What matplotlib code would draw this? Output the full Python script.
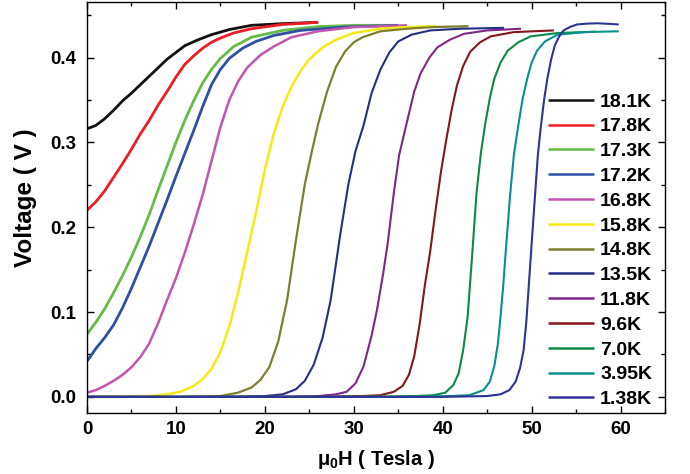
import matplotlib
matplotlib.use("Agg")
import matplotlib.pyplot as plt
from matplotlib.ticker import MultipleLocator

plt.rcParams['font.family'] = ['Liberation Sans', 'DejaVu Sans']
plt.rcParams['font.weight'] = 'bold'
plt.rcParams['mathtext.fontset'] = 'custom'
plt.rcParams['mathtext.rm'] = 'Liberation Sans:bold'
plt.rcParams['mathtext.it'] = 'Liberation Sans:bold'
plt.rcParams['mathtext.bf'] = 'Liberation Sans:bold'

labels = ["18.1K", "17.8K", "17.3K", "17.2K", "16.8K", "15.8K", "14.8K",
          "13.5K", "11.8K", "9.6K", "7.0K", "3.95K", "1.38K"]
colors = ["#111111", "#ee1c24", "#62bd45", "#2f4fa5", "#c155b0", "#f5ea14",
          "#7e7f2e", "#242f85", "#80268a", "#85161b", "#0c8a46", "#04918f", "#2e3395"]

H_181 = [0, 1, 2, 3, 4, 5, 6, 7, 8, 9, 10, 11, 12.5, 14, 16, 18.5, 22, 26]
V_181 = [0.316, 0.320, 0.328, 0.338, 0.349, 0.358, 0.368, 0.378, 0.388, 0.398,
         0.406, 0.414, 0.421, 0.427, 0.433, 0.438, 0.440, 0.4415]

H_178 = [0, 1, 2, 3, 4, 5, 6, 7, 8, 9, 10, 11, 12, 13, 14, 15, 16.5, 18.5, 22, 26]
V_178 = [0.220, 0.230, 0.243, 0.259, 0.275, 0.292, 0.310, 0.326, 0.344, 0.360,
         0.377, 0.392, 0.402, 0.411, 0.418, 0.423, 0.429, 0.434, 0.439, 0.4415]

H_173 = [0, 1, 2, 3, 4, 5, 6, 7, 8, 9, 10, 11, 12, 13, 14, 15, 16.5, 18.5, 22, 26, 30, 35]
V_173 = [0.074, 0.088, 0.104, 0.123, 0.143, 0.165, 0.189, 0.215, 0.244, 0.272,
         0.300, 0.326, 0.349, 0.370, 0.386, 0.399, 0.413, 0.424, 0.432, 0.4365, 0.438, 0.438]

H_172 = [0, 1, 2, 3, 4, 5, 6, 7, 8, 9, 10, 11, 12, 13, 14, 15, 16, 17.5, 19, 21, 24, 29, 35]
V_172 = [0.042, 0.057, 0.070, 0.085, 0.105, 0.128, 0.153, 0.178, 0.205, 0.232,
         0.260, 0.287, 0.314, 0.342, 0.368, 0.386, 0.399, 0.411, 0.419, 0.426,
         0.432, 0.436, 0.438]

H_168 = [0, 1, 2, 3, 4, 5, 6, 7, 8, 9, 10, 11, 12, 13, 14, 15, 16, 17, 18, 19.5,
         21, 23, 26, 30, 36]
V_168 = [0.005, 0.008, 0.013, 0.019, 0.026, 0.035, 0.047, 0.063, 0.087, 0.114,
         0.140, 0.170, 0.203, 0.238, 0.278, 0.318, 0.350, 0.372, 0.388, 0.403,
         0.413, 0.424, 0.431, 0.436, 0.438]

H_158 = [0, 4, 7, 9, 10.5, 12, 13, 14, 15, 16, 17, 18, 19, 20, 21, 22, 23, 24, 25,
         26.5, 28, 30, 33, 36, 39.2]
V_158 = [0.0, 0.0, 0.001, 0.003, 0.006, 0.013, 0.021, 0.033, 0.053, 0.083, 0.123,
         0.170, 0.217, 0.268, 0.310, 0.342, 0.366, 0.384, 0.398, 0.412, 0.421,
         0.429, 0.434, 0.436, 0.437]

H_148 = [0, 10, 15, 17, 18.5, 19.5, 20.5, 21.5, 22.5, 23.5, 24.5, 25.3, 26, 27, 28,
         29, 30, 31, 33, 36, 39, 42.9]
V_148 = [0.0, 0.0, 0.001, 0.005, 0.011, 0.020, 0.035, 0.065, 0.114, 0.185, 0.251,
         0.290, 0.322, 0.360, 0.389, 0.407, 0.418, 0.424, 0.431, 0.434, 0.436, 0.437]

H_135 = [0, 15, 20, 22, 23.5, 24.5, 25.5, 26.5, 27.4, 28.5, 29.4, 30.2, 31.1, 32,
         33, 34, 35, 36.5, 38.6, 42, 46.9]
V_135 = [0.0, 0.0, 0.001, 0.003, 0.009, 0.019, 0.038, 0.070, 0.114, 0.193, 0.251,
         0.290, 0.320, 0.358, 0.386, 0.406, 0.419, 0.427, 0.432, 0.434, 0.435]

H_118 = [0, 20, 26, 28, 29.2, 30.2, 31.1, 32, 32.6, 33.3, 33.8, 34.5, 35.1, 36,
         36.8, 37.5, 38.5, 39.4, 40.8, 42.4, 45, 48.8]
V_118 = [0.0, 0.0, 0.001, 0.003, 0.006, 0.016, 0.036, 0.072, 0.102, 0.145, 0.180,
         0.240, 0.285, 0.325, 0.360, 0.381, 0.400, 0.412, 0.421, 0.428, 0.432, 0.434]

H_96 = [0, 25, 31, 33, 34.5, 35.5, 36.2, 36.8, 37.4, 38, 38.6, 39.2, 39.8, 40.4,
        41, 41.6, 42.3, 43.1, 44.2, 45.4, 48, 52.5]
V_96 = [0.0, 0.0, 0.001, 0.002, 0.006, 0.013, 0.026, 0.048, 0.085, 0.132, 0.172,
        0.220, 0.265, 0.303, 0.338, 0.367, 0.390, 0.407, 0.418, 0.425, 0.430, 0.432]

H_70 = [0, 30, 37, 39, 40.3, 41.2, 41.8, 42.3, 42.8, 43.3, 43.8, 44.3, 44.8, 45.3,
        45.8, 46.5, 47.3, 48.5, 49.9, 53, 57.2]
V_70 = [0.0, 0.0, 0.001, 0.002, 0.005, 0.014, 0.028, 0.055, 0.094, 0.165, 0.240,
        0.288, 0.323, 0.352, 0.375, 0.394, 0.408, 0.418, 0.425, 0.429, 0.4305]

H_395 = [0, 35, 41, 43, 44.6, 45.3, 45.8, 46.2, 46.5, 46.8, 47.1, 47.6, 48.0, 48.5,
         49.0, 49.5, 50.0, 50.6, 51.5, 52.9, 56, 59.8]
V_395 = [0.0, 0.0, 0.001, 0.002, 0.008, 0.018, 0.036, 0.062, 0.094, 0.130, 0.173,
         0.240, 0.285, 0.320, 0.352, 0.375, 0.394, 0.408, 0.419, 0.427, 0.430, 0.431]

H_138 = [0, 40, 45, 46.5, 47.5, 48.2, 48.7, 49.1, 49.4, 49.7, 50.0, 50.3, 50.7,
         51.0, 51.4, 51.8, 52.2, 52.6, 53.1, 53.6, 54.3, 55.1, 56.2, 57.4, 58.6, 59.8]
V_138 = [0.0, 0.0, 0.001, 0.003, 0.008, 0.018, 0.034, 0.055, 0.088, 0.134, 0.180,
         0.225, 0.285, 0.315, 0.350, 0.377, 0.398, 0.414, 0.425, 0.432, 0.436,
         0.439, 0.440, 0.4404, 0.4398, 0.439]

series = [(H_181, V_181), (H_178, V_178), (H_173, V_173), (H_172, V_172),
          (H_168, V_168), (H_158, V_158), (H_148, V_148), (H_135, V_135),
          (H_118, V_118), (H_96, V_96), (H_70, V_70), (H_395, V_395), (H_138, V_138)]
widths = [2.0, 2.0, 2.0, 2.0, 1.8, 1.8, 1.6, 1.5, 1.5, 1.5, 1.5, 1.5, 1.5]

fig = plt.figure(figsize=(6.9, 4.74), dpi=100)
ax = fig.add_axes([87/690, 1-413/474, (665-87)/690, (413-2)/474])

for (h, v), lab, c, w in zip(series, labels, colors, widths):
    ax.plot(h, v, color=c, lw=w, label=lab, solid_capstyle='butt')

ax.set_xlim(0, 65)
ax.set_ylim(-0.019, 0.4655)
ax.xaxis.set_major_locator(MultipleLocator(10))
ax.xaxis.set_minor_locator(MultipleLocator(5))
ax.yaxis.set_major_locator(MultipleLocator(0.1))
ax.yaxis.set_minor_locator(MultipleLocator(0.05))
ax.tick_params(which='both', direction='in', top=True, right=True, width=1.0)
ax.tick_params(which='major', length=5, labelsize=13.5)
ax.tick_params(axis='y', which='major', pad=7.5)
ax.tick_params(axis='x', which='major', pad=6)
ax.tick_params(which='minor', length=3)
for lab in ax.get_xticklabels() + ax.get_yticklabels():
    lab.set_fontweight('bold')
for s in ax.spines.values():
    s.set_linewidth(1.0)

ax.set_xlabel(r'$\mu_0$H ( Tesla )', fontsize=14.5, fontweight='bold', labelpad=7)
ax.set_ylabel('Voltage ( V )', fontsize=17.5, fontweight='bold')
ax.yaxis.set_label_coords(-0.086, 0.525)

leg = ax.legend(loc='upper left', bbox_to_anchor=(548/690, 1-93/474),
                bbox_transform=fig.transFigure, frameon=False,
                prop={'size': 14, 'weight': 'bold'}, handlelength=2.37,
                handletextpad=0.31, labelspacing=0.37, borderpad=0, borderaxespad=0)
for line in leg.get_lines():
    line.set_linewidth(1.8)

fig.savefig('out.png', dpi=100)
